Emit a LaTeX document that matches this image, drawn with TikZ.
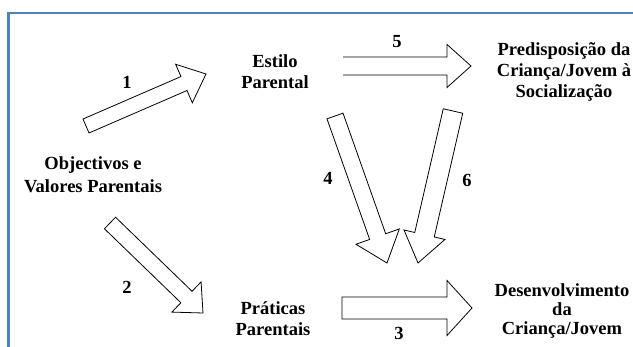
\documentclass[tikz,border=0pt]{standalone}
\usepackage{fontspec}
\setmainfont{Liberation Serif}[BoldFont={Liberation Serif Bold}]
\newfontfamily\tnrbold{Liberation Serif Bold}
\usetikzlibrary{calc}
\definecolor{framblue}{RGB}{79,129,189}
\newcommand\blockarrow[6]{% #1 closing, #2 tail, #3 tip, #4 half shaft, #5 half head, #6 head length
  \coordinate (hb) at ($(#3)!#6!(#2)$);
  \draw[barrow] ($(#2)!#4!90:(#3)$) -- ($(hb)!#4!90:(#3)$) -- ($(hb)!#5!90:(#3)$) -- (#3)
     -- ($(hb)!#5!-90:(#3)$) -- ($(hb)!#4!-90:(#3)$) -- ($(#2)!#4!-90:(#3)$) #1;}
\begin{document}
\begin{tikzpicture}[x=1pt,y=-1pt,
  lbl/.style={font=\tnrbold\fontsize{18.5}{21}\selectfont, align=center, inner sep=0pt},
  num/.style={font=\tnrbold\fontsize{18.5}{21}\selectfont, inner sep=0pt},
  barrow/.style={draw=black, line width=0.8pt, line join=miter, fill=white},
  frameline/.style={draw=framblue, line width=2.6pt}]
\useasboundingbox (0,0) rectangle (633,347);
\fill[white] (0,0) rectangle (633,347);
\draw[frameline] (8.5,352) |- (640,13);
% text nodes
\node[lbl] (estilo) at (275,72) {Estilo\\Parental};
\node[lbl] (objv) at (93,175) {Objectivos e\\[2pt]Valores Parentais};
\node[lbl] (prat) at (273,319) {Práticas\\Parentais};
\node[lbl] (pred) at (564,72) {Predisposição da\\Criança/Jovem à\\Socialização};
\node[lbl] (desenv) at (562,311) {Desenvolvimento\\[-2pt]da\\[-2pt]Criança/Jovem};
% numbers
\node[num] (n1) at (127,82) {1};
\node[num] (n2) at (127,287) {2};
\node[num] (n3) at (399,333) {3};
\node[num] (n4) at (328,178) {4};
\node[num] (n5) at (397,42) {5};
\node[num] (n6) at (467,180) {6};
% arrow end points
\coordinate (a1t) at (86,126);  \coordinate (a1h) at (206,74);
\coordinate (a2t) at (110,223); \coordinate (a2h) at (203,313);
\coordinate (a3t) at (342,308); \coordinate (a3h) at (472,308);
\coordinate (a4t) at (335,116); \coordinate (a4h) at (387,263);
\coordinate (a5t) at (343,66);  \coordinate (a5h) at (471,66);
\coordinate (a6t) at (453,111); \coordinate (a6h) at (418,263);
% block arrows
\blockarrow{-- cycle}{a1t}{a1h}{7.6pt}{21pt}{24pt}
\blockarrow{-- cycle}{a2t}{a2h}{8pt}{21pt}{23pt}
\blockarrow{-- cycle}{a3t}{a3h}{11pt}{27.5pt}{25pt}
\blockarrow{-- cycle}{a4t}{a4h}{8.5pt}{23pt}{28pt}
\blockarrow{}{a5t}{a5h}{9pt}{21.5pt}{24pt}
\blockarrow{-- cycle}{a6t}{a6h}{10pt}{21pt}{29pt}
\end{tikzpicture}
\end{document}
